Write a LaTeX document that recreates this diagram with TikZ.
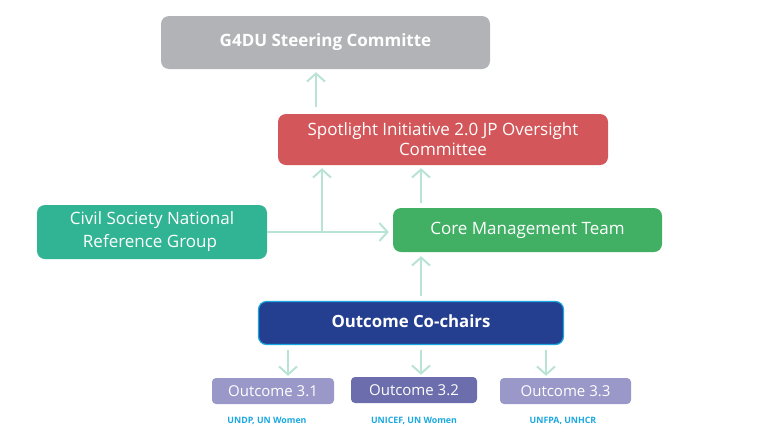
\documentclass[tikz,border=0pt]{standalone}
\usepackage{fontspec}
\setmainfont{Open Sans}
\usetikzlibrary{arrows.meta}

\definecolor{boxgray}{HTML}{B2B3B7}
\definecolor{boxred}{HTML}{D3575A}
\definecolor{boxteal}{HTML}{30B493}
\definecolor{boxgreen}{HTML}{41B064}
\definecolor{boxnavy}{HTML}{243F8F}
\definecolor{boxcyan}{HTML}{1BA8E0}
\definecolor{boxlilac}{HTML}{9A98C8}
\definecolor{boxpurple}{HTML}{6C6DAC}
\definecolor{arrowmint}{HTML}{B9E3D5}

\begin{document}
\begin{tikzpicture}[x=1pt,y=-1pt,->,>={Straight Barb[length=8pt,width=18pt]},
        every node/.style={text=white,align=center,inner sep=0pt},
        unit/.style={rounded corners=8pt},
        outcome/.style={rounded corners=4pt,minimum height=26pt,font=\fontsize{15}{17}\selectfont},
        lead/.style={text=boxcyan,font=\bfseries\fontsize{8.8}{10}\selectfont},
        link/.style={color=arrowmint,line width=2pt}]
                \useasboundingbox (0,0) rectangle (775,445);
                \node[unit,fill=boxgray,minimum width=329pt,minimum height=53pt,font=\bfseries\fontsize{17}{20}\selectfont](g4du)at(325.5, 42.5){\raisebox{2pt}{G4DU Steering Committe}};
                \node[unit,fill=boxred,minimum width=330pt,minimum height=51pt,font=\fontsize{17}{20}\selectfont](spot)at(443, 139.5){Spotlight Initiative 2.0 JP Oversight\\Committee};
                \node[unit,fill=boxteal,minimum width=230pt,minimum height=54pt,font=\fontsize{17}{23}\selectfont](civil)at(152, 232){Civil Society National\\Reference Group\hspace*{4pt}};
                \node[unit,fill=boxgreen,minimum width=269pt,minimum height=44pt,font=\fontsize{17}{20}\selectfont](core)at(527.5, 230){Core Management Team};
                \node[unit,fill=boxnavy,draw=boxcyan,line width=1.2pt,minimum width=305pt,minimum height=43pt,font=\bfseries\fontsize{16.8}{20}\selectfont](chairs)at(411, 323){\raisebox{3pt}{Outcome Co-chairs}};
                \node[outcome,fill=boxlilac,minimum width=122pt](o31)at(273, 391){Outcome 3.1};
                \node[outcome,fill=boxpurple,minimum width=126pt](o32)at(414, 390){Outcome 3.2};
                \node[outcome,fill=boxlilac,minimum width=131pt](o33)at(565.5, 391){Outcome 3.3};
                \node[lead](l31)at(267, 421){UNDP, UN Women};
                \node[lead](l32)at(414, 421){UNICEF, UN Women};
                \node[lead](l33)at(563, 421){UNFPA, UNHCR};
                % x positions of the connectors
                \coordinate(g4in)at(316, 0);
                \coordinate(branch)at(322, 0);
                \coordinate(stem)at(421, 0);
                \coordinate(c31)at(288, 0);
                \coordinate(c33)at(546, 0);
                \path[link]
                ([yshift=7pt]spot.north -| g4in) edge ([yshift=-3pt]g4du.south -| g4in)
                (civil.east) edge ([xshift=-4pt]core.west |- civil.east)
                (civil.east -| branch) edge ([yshift=-3pt]spot.south -| branch)
                ([yshift=5pt]core.north -| stem) edge ([yshift=-3pt]spot.south -| stem)
                ([yshift=5pt]chairs.north -| stem) edge ([yshift=-4pt]core.south -| stem)
                ([yshift=-5pt]chairs.south -| c31) edge ([yshift=2pt]o31.north -| c31)
                ([yshift=-5pt]chairs.south -| stem) edge ([yshift=2pt]o32.north -| stem)
                ([yshift=-5pt]chairs.south -| c33) edge ([yshift=2pt]o33.north -| c33);
            \end{tikzpicture}
\end{document}
